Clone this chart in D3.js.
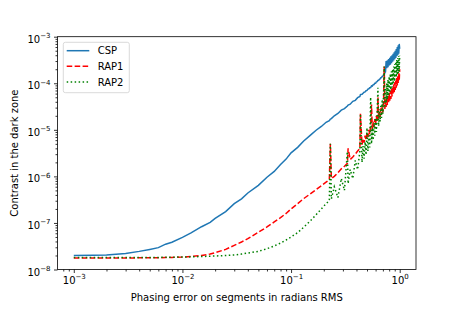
<!DOCTYPE html>
<html>
<head>
<meta charset="utf-8">
<script src="https://cdn.jsdelivr.net/npm/d3@7"></script>
<style>
  body { margin: 0; background: #fff; }
  svg { font-family: "DejaVu Sans", sans-serif; }
</style>
</head>
<body>
<script>
// phasing error (rad RMS), shared by the three curves
const phaseErr = [0.001, 0.0015, 0.002, 0.003, 0.004, 0.005, 0.006, 0.007, 0.008, 0.01,
  0.012, 0.015, 0.018, 0.02, 0.025, 0.03, 0.035, 0.04, 0.05, 0.06, 0.07, 0.08, 0.09, 0.1,
  0.115, 0.13, 0.15, 0.17, 0.19, 0.21, 0.225, 0.23, 0.235, 0.25, 0.27, 0.29, 0.31, 0.33,
  0.335, 0.35, 0.37, 0.39, 0.41, 0.43, 0.435,
  0.45, 0.46, 0.47, 0.48, 0.49, 0.50, 0.51, 0.52, 0.53, 0.54, 0.55, 0.56, 0.57, 0.58,
  0.59, 0.60, 0.61, 0.62, 0.63, 0.64, 0.65, 0.66, 0.67, 0.68, 0.69, 0.70, 0.71, 0.72,
  0.73, 0.74, 0.75, 0.76, 0.77, 0.78, 0.79, 0.80, 0.81, 0.82, 0.83, 0.84, 0.85, 0.86,
  0.87, 0.88, 0.89, 0.90, 0.91, 0.92, 0.93, 0.94, 0.95, 0.96, 0.97, 0.98, 0.99, 1.00];

const csp = [2.0e-8, 2.02e-8, 2.06e-8, 2.2e-8, 2.45e-8, 2.7e-8, 2.95e-8, 3.5e-8, 3.85e-8, 4.9e-8,
  6.1e-8, 8.3e-8, 1.03e-7, 1.25e-7, 1.75e-7, 2.6e-7, 3.3e-7, 4.4e-7, 6.4e-7, 9.6e-7, 1.28e-6, 1.8e-6, 2.35e-6, 3.2e-6,
  4.2e-6, 5.7e-6, 7.6e-6, 9.8e-6, 1.18e-5, 1.45e-5, 1.58e-5, 1.7e-5, 1.74e-5, 2.0e-5, 2.25e-5, 2.65e-5, 2.85e-5, 3.25e-5,
  3.4e-5, 3.55e-5, 4.1e-5, 4.3e-5, 4.9e-5, 5.2e-5, 5.7e-5,
  5.8e-5, 6.1e-5, 6.4e-5, 6.5e-5, 6.9e-5, 7.0e-5, 7.5e-5, 7.6e-5, 8.0e-5, 8.1e-5, 8.8e-5, 8.7e-5, 9.3e-5, 9.4e-5,
  1.0e-4, 1.0e-4, 1.07e-4, 1.08e-4, 1.15e-4, 1.16e-4, 1.22e-4, 1.24e-4, 1.32e-4, 1.33e-4, 1.4e-4, 1.42e-4, 1.52e-4, 1.55e-4,
  1.7e-4, 1.75e-4, 3.0e-4, 2.1e-4, 3.1e-4, 2.2e-4, 3.3e-4, 2.4e-4, 3.5e-4, 2.5e-4, 3.8e-4, 2.7e-4, 4.0e-4, 2.9e-4,
  4.3e-4, 3.1e-4, 4.6e-4, 3.3e-4, 5.0e-4, 3.5e-4, 5.4e-4, 3.8e-4, 6.0e-4, 4.0e-4, 6.5e-4, 4.3e-4, 7.0e-4, 5.5e-4];

const rap1 = [1.76e-8, 1.76e-8, 1.77e-8, 1.77e-8, 1.78e-8, 1.78e-8, 1.79e-8, 1.8e-8, 1.82e-8, 1.85e-8,
  1.9e-8, 2.0e-8, 2.15e-8, 2.3e-8, 2.7e-8, 3.3e-8, 3.9e-8, 4.6e-8, 6.3e-8, 8.2e-8, 1.05e-7, 1.3e-7, 1.6e-7, 2.0e-7,
  2.6e-7, 3.3e-7, 4.2e-7, 5.2e-7, 6.3e-7, 7.5e-7, 8.5e-7, 5.0e-6, 9.0e-7, 1.0e-6, 1.2e-6, 1.45e-6, 1.65e-6, 1.9e-6,
  4.0e-6, 2.3e-6, 2.6e-6, 3.0e-6, 3.5e-6, 4.0e-6, 2.2e-5,
  4.8e-6, 6.5e-6, 5.3e-6, 7.5e-6, 6.0e-6, 8.5e-6, 7.0e-6, 1.0e-5, 8.0e-6, 1.2e-5, 3.5e-5, 1.0e-5, 1.5e-5, 1.15e-5,
  1.7e-5, 1.3e-5, 2.0e-5, 1.5e-5, 5.0e-5, 1.7e-5, 2.5e-5, 1.9e-5, 2.9e-5, 2.1e-5, 3.3e-5, 2.4e-5, 3.8e-5, 2.3e-4,
  2.8e-5, 4.4e-5, 3.1e-5, 5.0e-5, 3.4e-5, 5.6e-5, 3.8e-5, 6.2e-5, 4.2e-5, 6.8e-5, 4.6e-5, 7.5e-5, 5.2e-5, 8.5e-5,
  5.8e-5, 9.5e-5, 6.4e-5, 1.05e-4, 7.2e-5, 1.15e-4, 8.0e-5, 1.3e-4, 9.0e-5, 1.45e-4, 1.0e-4, 1.65e-4, 1.15e-4, 2.0e-4];

const rap2 = [1.8e-8, 1.8e-8, 1.8e-8, 1.8e-8, 1.81e-8, 1.82e-8, 1.82e-8, 1.83e-8, 1.84e-8, 1.85e-8,
  1.87e-8, 1.9e-8, 1.93e-8, 1.95e-8, 2.0e-8, 2.05e-8, 2.15e-8, 2.25e-8, 2.45e-8, 2.8e-8, 3.2e-8, 3.7e-8, 4.3e-8, 5.0e-8,
  6.2e-8, 8.0e-8, 1.1e-7, 1.5e-7, 2.0e-7, 2.6e-7, 3.0e-7, 5.0e-6, 3.3e-7, 6.0e-7, 3.5e-7, 9.0e-7, 5.0e-7, 3.4e-6,
  7.0e-7, 1.4e-6, 9.0e-7, 2.2e-6, 1.4e-6, 3.5e-6, 2.2e-5,
  2.0e-6, 4.5e-6, 2.4e-6, 5.5e-6, 2.9e-6, 1.1e-5, 3.5e-6, 7.5e-6, 4.2e-6, 5.0e-5, 5.0e-6, 1.1e-5, 6.0e-6, 1.4e-5,
  7.5e-6, 1.8e-5, 9.0e-6, 2.2e-5, 8.0e-5, 1.2e-5, 2.8e-5, 1.5e-5, 3.5e-5, 1.8e-5, 4.5e-5, 2.2e-5, 5.5e-5, 2.3e-4,
  3.0e-5, 8.0e-5, 3.8e-5, 1.0e-4, 4.5e-5, 1.2e-4, 5.3e-5, 1.4e-4, 6.2e-5, 1.6e-4, 7.2e-5, 1.8e-4, 8.2e-5, 2.0e-4,
  9.5e-5, 2.3e-4, 1.1e-4, 2.6e-4, 1.2e-4, 2.9e-4, 1.35e-4, 3.2e-4, 1.5e-4, 3.5e-4, 1.65e-4, 3.8e-4, 1.8e-4, 4.0e-4];

const seriesNames = ["CSP", "RAP1", "RAP2"];
const xTicks = [1e-3, 1e-2, 1e-1, 1];
const yTicks = [1e-8, 1e-7, 1e-6, 1e-5, 1e-4, 1e-3];

class Chart {
  constructor() {
    this.series = [
      { name: seriesNames[0], values: csp, color: "#1f77b4", dash: null },
      { name: seriesNames[1], values: rap1, color: "#ff0000", dash: "5.55,2.4" },
      { name: seriesNames[2], values: rap2, color: "#008000", dash: "1.5,2.475" }
    ];
    this.draw();
  }

  draw() {
    this.margin = { top: 36.7, right: 47, bottom: 39.5, left: 57.5 };
    this.width = 463 - this.margin.left - this.margin.right;
    this.height = 309 - this.margin.top - this.margin.bottom;

    this.svg = d3.select("body").append("svg")
      .attr("width", 463)
      .attr("height", 309);
    this.plot = this.svg.append("g")
      .attr("transform", `translate(${this.margin.left},${this.margin.top})`);

    this.createScales();
    this.addAxes();
    this.addLines();
    this.addLegend();
  }

  createScales() {
    this.xScale = d3.scaleLog()
      .domain([Math.pow(10, -3.15), Math.pow(10, 0.15)])
      .range([0, this.width]);
    this.yScale = d3.scaleLog()
      .domain([1e-8, 1e-3])
      .range([this.height, 0]);
  }

  // minor ticks 2..9 for each decade inside the domain
  minorTicks(scale) {
    const [a, b] = scale.domain();
    const out = [];
    for (let e = Math.floor(Math.log10(a)); e <= Math.ceil(Math.log10(b)); e++) {
      for (let k = 2; k < 10; k++) {
        const v = k * Math.pow(10, e);
        if (v >= a && v <= b) out.push(v);
      }
    }
    return out;
  }

  powLabel(sel) {
    sel.each(function(d) {
      const t = d3.select(this);
      t.text(null);
      t.append("tspan").text("10");
      const e = Math.round(Math.log10(d));
      t.append("tspan")
        .attr("dy", -4.5)
        .attr("font-size", 7)
        .text(e < 0 ? "\u2212" + (-e) : String(e));
    });
  }

  addAxes() {
    const xAxis = d3.axisBottom(this.xScale)
      .tickValues(xTicks).tickSize(3.5).tickPadding(3.5);
    const yAxis = d3.axisLeft(this.yScale)
      .tickValues(yTicks).tickSize(3.5).tickPadding(3.5);

    const gx = this.plot.append("g")
      .attr("transform", `translate(0,${this.height})`)
      .call(xAxis);
    const gy = this.plot.append("g").call(yAxis);

    this.plot.append("g")
      .attr("transform", `translate(0,${this.height})`)
      .call(d3.axisBottom(this.xScale).tickValues(this.minorTicks(this.xScale)).tickSize(2).tickFormat(""));
    this.plot.append("g")
      .call(d3.axisLeft(this.yScale).tickValues(this.minorTicks(this.yScale)).tickSize(2).tickFormat(""));

    this.plot.selectAll(".domain").remove();
    this.plot.selectAll(".tick line").attr("stroke", "#000").attr("stroke-width", 0.8);

    gx.selectAll(".tick text").attr("font-size", 10).attr("fill", "#000")
      .attr("font-family", "DejaVu Sans").call(this.powLabel);
    gy.selectAll(".tick text").attr("font-size", 10).attr("fill", "#000")
      .attr("font-family", "DejaVu Sans").attr("dy", "0.55em").call(this.powLabel);

    // frame
    this.plot.append("rect")
      .attr("width", this.width)
      .attr("height", this.height)
      .attr("fill", "none")
      .attr("stroke", "#000")
      .attr("stroke-width", 0.8);

    this.svg.append("text")
      .attr("x", this.margin.left + this.width / 2)
      .attr("y", 301)
      .attr("text-anchor", "middle")
      .attr("font-size", 10)
      .text("Phasing error on segments in radians RMS");

    this.svg.append("text")
      .attr("transform", `translate(17.5,${this.margin.top + this.height / 2}) rotate(-90)`)
      .attr("text-anchor", "middle")
      .attr("font-size", 10)
      .text("Contrast in the dark zone");
  }

  addLines() {
    const line = d3.line()
      .x((d, i) => this.xScale(phaseErr[i]))
      .y(d => this.yScale(d));

    this.plot.selectAll("path.curve")
      .data(this.series)
      .enter()
      .append("path")
      .attr("class", "curve")
      .attr("d", d => line(d.values))
      .attr("fill", "none")
      .attr("stroke", d => d.color)
      .attr("stroke-width", 1.5)
      .attr("stroke-dasharray", d => d.dash);
  }

  addLegend() {
    const lg = this.svg.append("g").attr("transform", "translate(63.3,42.3)");
    lg.append("rect")
      .attr("width", 66)
      .attr("height", 50.4)
      .attr("rx", 2)
      .attr("fill", "#fff")
      .attr("fill-opacity", 0.8)
      .attr("stroke", "#d0d0d0")
      .attr("stroke-width", 0.8);

    const rows = lg.selectAll("g.row")
      .data(this.series)
      .enter()
      .append("g")
      .attr("class", "row")
      .attr("transform", (d, i) => `translate(0,${8.4 + i * 15.6})`);
    rows.append("line")
      .attr("x1", 3.4).attr("x2", 26)
      .attr("stroke", d => d.color)
      .attr("stroke-width", 1.5)
      .attr("stroke-dasharray", d => d.dash);
    rows.append("text")
      .attr("x", 34.4)
      .attr("dy", "0.36em")
      .attr("font-size", 10)
      .text(d => d.name);
  }
}

new Chart();
</script>
</body>
</html>
